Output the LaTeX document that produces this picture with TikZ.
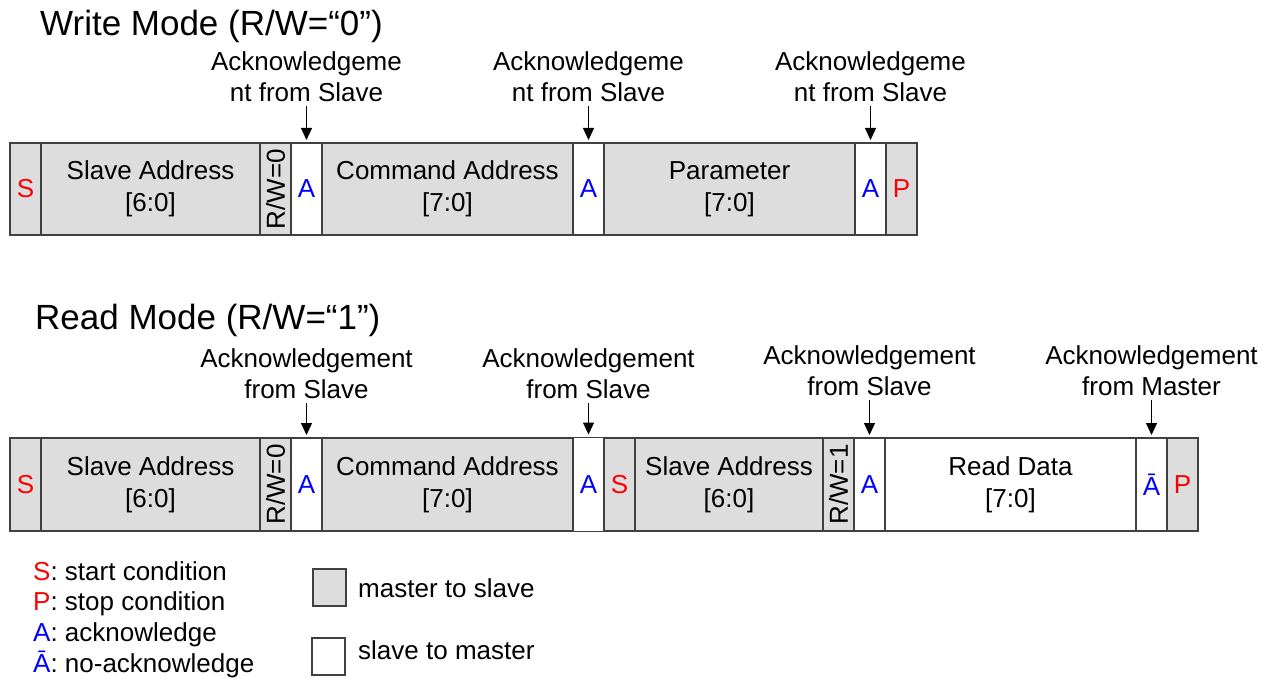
\documentclass[tikz,border=0pt]{standalone}
\usepackage{fontspec}
\setmainfont{Liberation Sans}
\usetikzlibrary{arrows.meta}
\usetikzlibrary{positioning}
\definecolor{mgray}{HTML}{DDDDDD}
\definecolor{cline}{HTML}{404040}

\begin{document}
\begin{tikzpicture}[x=1pt, y=-1pt,
        cell/.style={draw=cline, line width=1.2pt, fill=mgray, inner sep=0pt, outer sep=0pt, minimum height=92pt, align=center, font=\fontsize{26}{32}\selectfont},
        ack/.style={cell, fill=white, text=blue, minimum width=31pt},
        cond/.style={cell, text=red, minimum width=31pt},
        note/.style={inner sep=0pt, align=center, font=\fontsize{26}{31}\selectfont},
        pointer/.style={-{Triangle[length=12pt,width=11pt]}, line width=1.2pt, shorten <=4pt, shorten >=3pt}]
        \useasboundingbox (0,0) rectangle (1271,679);

        \node[anchor=west, inner sep=0pt, font=\fontsize{35}{42}\selectfont] (wtitle) at (40,26) {Write Mode (R/W=“0”)};
        \node[cond, anchor=north west] (ws) at (10,143) {S};
        \node[cell, minimum width=219pt, right=0pt of ws] (wslave) {Slave Address\\{[6:0]}};
        \node[cell, minimum width=31pt, right=0pt of wslave] (wrw) {\rotatebox{90}{R/W=0}};
        \node[ack, right=0pt of wrw] (wa1) {A};
        \node[cell, minimum width=251pt, right=0pt of wa1] (wcmd) {Command Address\\{[7:0]}};
        \node[ack, right=0pt of wcmd] (wa2) {A};
        \node[cell, minimum width=251pt, right=0pt of wa2] (wpar) {Parameter\\{[7:0]}};
        \node[ack, right=0pt of wpar] (wa3) {A};
        \node[cond, right=0pt of wa3] (wp) {P};

        \node[note, above=41pt of wa1] (wl1) {Acknowledgeme\\nt from Slave};
        \node[note, above=41pt of wa2] (wl2) {Acknowledgeme\\nt from Slave};
        \node[note, above=41pt of wa3] (wl3) {Acknowledgeme\\nt from Slave};
        \draw[pointer] (wl1) -- (wa1);
        \draw[pointer] (wl2) -- (wa2);
        \draw[pointer] (wl3) -- (wa3);

        \node[anchor=west, inner sep=0pt, font=\fontsize{35}{42}\selectfont] (rtitle) at (35,320) {Read Mode (R/W=“1”)};
        \node[cond, minimum height=93pt, anchor=north west] (rs) at (10,438) {S};
        \node[cell, minimum height=93pt, minimum width=219pt, right=0pt of rs] (rslave) {Slave Address\\{[6:0]}};
        \node[cell, minimum height=93pt, minimum width=31pt, right=0pt of rslave] (rrw) {\rotatebox{90}{R/W=0}};
        \node[ack, minimum height=93pt, right=0pt of rrw] (ra1) {A};
        \node[cell, minimum height=93pt, minimum width=251pt, right=0pt of ra1] (rcmd) {Command Address\\{[7:0]}};
        \node[ack, minimum height=94pt, right=0pt of rcmd] (ra2) {A};
        \node[cond, minimum height=93pt, right=0pt of ra2] (rs2) {S};
        \node[cell, minimum height=93pt, minimum width=188pt, right=0pt of rs2] (rslave2) {Slave Address\\{[6:0]}};
        \node[cell, minimum height=93pt, minimum width=31pt, right=0pt of rslave2] (rrw2) {\rotatebox{90}{R/W=1}};
        \node[ack, minimum height=93pt, right=0pt of rrw2] (ra3) {A};
        \node[cell, fill=white, minimum height=93pt, minimum width=251pt, right=0pt of ra3] (rdata) {Read Data\\{[7:0]}};
        \node[ack, minimum height=93pt, right=0pt of rdata] (rna) {Ā};
        \node[cond, minimum height=93pt, right=0pt of rna] (rp) {P};

        \node[note, above=39pt of ra1] (rl1) {Acknowledgement\\from Slave};
        \node[note, above=39pt of ra2] (rl2) {Acknowledgement\\from Slave};
        \node[note, above=42pt of ra3] (rl3) {Acknowledgement\\from Slave};
        \node[note, above=42pt of rna] (rl4) {Acknowledgement\\from Master};
        \draw[pointer] (rl1) -- (ra1);
        \draw[pointer] (rl2) -- (ra2);
        \draw[pointer] (rl3) -- (ra3);
        \draw[pointer] (rl4) -- (rna);

        % legend
        \node[note, anchor=base west] (keyS) at (33,580) {\textcolor{red}{S}: start condition};
        \node[note, anchor=base west] (keyP) at (33,610.5) {\textcolor{red}{P}: stop condition};
        \node[note, anchor=base west] (keyA) at (33,641) {\textcolor{blue}{A}: acknowledge};
        \node[note, anchor=base west] (keyN) at (33,672) {\textcolor{blue}{Ā}: no-acknowledge};
        \node[cell, minimum width=33pt, minimum height=37pt, anchor=north west] (keygray) at (313,569) {};
        \node[cell, fill=white, minimum width=33pt, minimum height=37pt, anchor=north west] (keywhite) at (312,638) {};
        \node[note, anchor=base west] (keym2s) at (358,597) {master to slave};
        \node[note, anchor=base west] (keys2m) at (358,659) {slave to master};
    \end{tikzpicture}
\end{document}
